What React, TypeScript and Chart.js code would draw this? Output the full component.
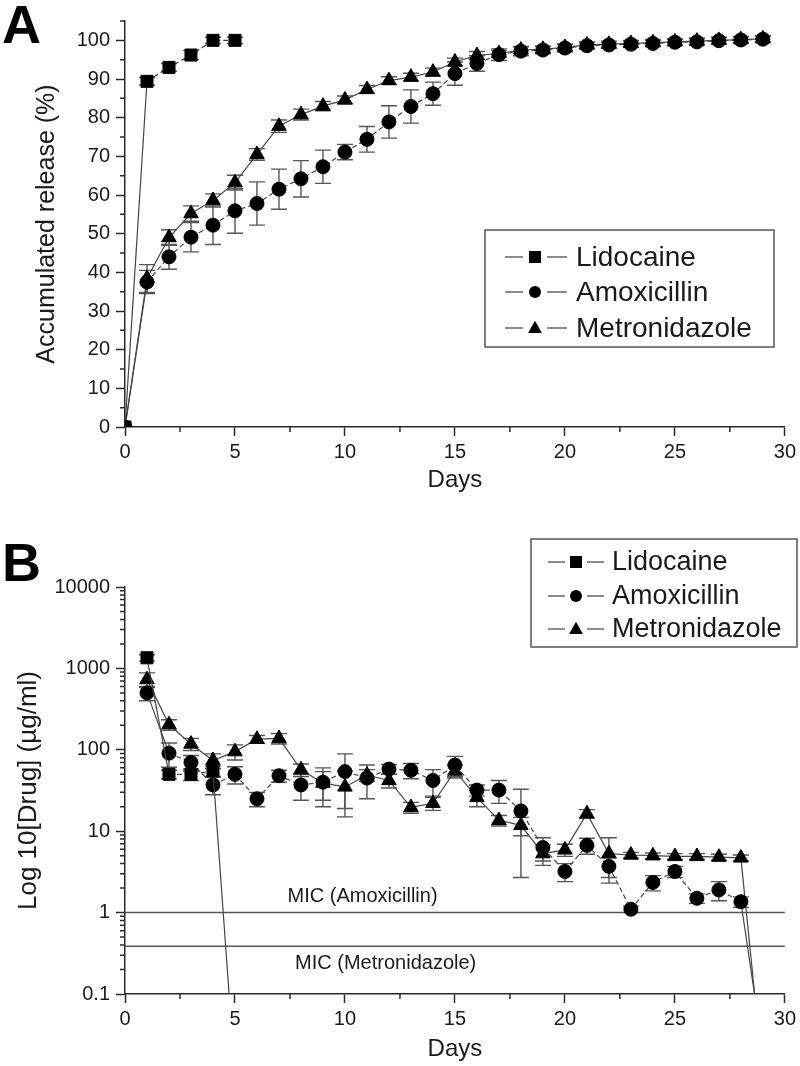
import React, { useEffect, useRef } from 'react';
import { Chart, registerables } from 'chart.js';

Chart.register(...registerables);

// ---------------- Panel A data (accumulated release, %) ----------------
const daysA = [0, 1, 2, 3, 4, 5, 6, 7, 8, 9, 10, 11, 12, 13, 14, 15, 16, 17, 18, 19, 20, 21, 22, 23, 24, 25, 26, 27, 28, 29];
const lidocaineA = [0, 89.4, 93.0, 96.2, 100.0, 100.0];
const lidocaineAErr = [0, 1.0, 1.0, 1.2, 0.8, 0.8];
const amoxicillinA = [0, 37.5, 44.0, 49.1, 52.2, 55.9, 57.8, 61.5, 64.2, 67.3, 71.1, 74.4, 78.9, 82.9, 86.2, 91.4, 94.0, 96.3, 97.2, 97.5, 98.0, 98.6, 98.8, 99.0, 99.2, 99.5, 99.6, 99.9, 100.1, 100.3];
const amoxicillinAErr = [0, 3.0, 3.2, 3.8, 5.0, 5.8, 5.6, 5.2, 4.7, 4.3, 2.0, 3.3, 4.2, 4.3, 3.0, 3.0, 2.0, 1.5, 1.2, 1.0, 1.0, 0.8, 0.8, 0.8, 0.8, 0.8, 0.8, 0.8, 0.8, 0.8];
const metronidazoleA = [0, 38.4, 49.0, 55.2, 58.6, 63.2, 70.5, 77.8, 80.8, 83.0, 84.6, 87.3, 89.6, 90.5, 91.8, 94.4, 96.1, 96.6, 97.5, 97.7, 98.2, 98.8, 99.0, 99.2, 99.4, 99.6, 99.8, 100.0, 100.2, 100.4];
const metronidazoleAErr = [0, 3.6, 2.0, 2.0, 1.7, 1.9, 1.5, 1.6, 1.4, 1.2, 1.0, 1.0, 1.0, 1.0, 1.0, 1.0, 1.0, 0.8, 0.8, 0.8, 0.8, 0.8, 0.8, 0.8, 0.8, 0.8, 0.8, 0.8, 0.8, 0.8];

// ---------------- Panel B data (concentration, µg/ml, log axis) ----------------
const daysB = [1, 2, 3, 4, 5, 6, 7, 8, 9, 10, 11, 12, 13, 14, 15, 16, 17, 18, 19, 20, 21, 22, 23, 24, 25, 26, 27, 28, 29];
const lidocaineB = [1350, 50, 50, 55, 0.01];
const lidocaineBErr = [120, 6, 8, 8, 0];
const amoxicillinB = [500, 91, 70, 37, 50, 25, 48, 37, 40, 54, 45, 58, 56, 42, 65, 32, 32, 17.7, 6.3, 3.2, 6.7, 3.7, 1.1, 2.35, 3.2, 1.5, 1.9, 1.36, 0.02];
const amoxicillinBErr = [100, 30, 15, 9, 12, 5, 8, 13, 20, 35, 20, 8, 12, 15, 18, 5, 10, 15, 2, 0.8, 1.5, 1.0, 0.1, 0.5, 0.5, 0.2, 0.5, 0.2, 0];
const metronidazoleB = [730, 204, 118, 74, 95, 135, 138, 57, 39, 35, 49, 42, 19.6, 22, 55, 26, 13.6, 11.8, 5.3, 5.9, 16.4, 5.3, 5.1, 5.0, 4.9, 4.9, 4.8, 4.7, 0.01];
const metronidazoleBErr = [150, 30, 20, 15, 20, 15, 20, 10, 15, 20, 8, 8, 3, 4, 10, 6, 2, 3, 1.5, 1, 2, 3, 0.4, 0.4, 0.4, 0.4, 0.4, 0.4, 0];
const micAmoxicillin = 1;
const micMetronidazole = 0.385;

// ---------------- ticks ----------------
const xTicks = [0, 5, 10, 15, 20, 25, 30];
const yTicksA = [0, 10, 20, 30, 40, 50, 60, 70, 80, 90, 100];
const yTicksB = [0.1, 1, 10, 100, 1000, 10000];

const xMinor = xTicks.slice(0, -1).map((v) => v + 2.5);
const yMinorA = yTicksA.map((v) => v + 5);
const yMinorB = yTicksB.slice(0, -1).flatMap((d) => [2, 3, 4, 5, 6, 7, 8, 9].map((k) => k * d));

const FONT = "'Liberation Sans', Arial, Helvetica, sans-serif";
const AXIS = '#2a2a2a';
const TEXT = '#1a1a1a';

const toPoints = (days: number[], vals: number[]) => vals.map((v, i) => ({ x: days[i], y: v }));

function series(label: string, data: any[], errors: number[], pointStyle: string, radius: number, dashed: boolean) {
  return {
    label,
    data,
    errors,
    legendEntry: true,
    pointStyle,
    pointRadius: radius,
    pointHoverRadius: radius,
    pointBackgroundColor: '#000',
    pointBorderColor: '#000',
    pointBorderWidth: 1,
    borderColor: '#454545',
    borderWidth: 1.2,
    tension: 0,
    fill: false,
    segment: {
      borderDash: (c: any) => (dashed && c.p0DataIndex > 0 && c.p1.parsed.y >= 0.1 ? [5, 3] : undefined),
    },
  };
}

function micLine(label: string, value: number) {
  return {
    label,
    data: [{ x: 0, y: value }, { x: 30, y: value }],
    borderColor: '#555',
    borderWidth: 1.5,
    pointRadius: 0,
    pointHoverRadius: 0,
    fill: false,
  };
}

// ---------------- plugins ----------------
const errorBarsPlugin = {
  id: 'errorBars',
  beforeDatasetsDraw(chart: any) {
    const { ctx, chartArea } = chart;
    const xs = chart.scales.x;
    const ys = chart.scales.y;
    ctx.save();
    ctx.beginPath();
    ctx.rect(chartArea.left, chartArea.top - 2, chartArea.right - chartArea.left, chartArea.bottom - chartArea.top + 2);
    ctx.clip();
    ctx.strokeStyle = '#555';
    ctx.lineWidth = 1.4;
    chart.data.datasets.forEach((ds: any) => {
      if (!ds.errors) return;
      ds.data.forEach((p: any, j: number) => {
        const e = ds.errors[j];
        if (!e || p.y < ys.min) return;
        const x = xs.getPixelForValue(p.x);
        const hi = ys.getPixelForValue(p.y + e);
        const loVal = p.y - e;
        const lo = loVal > ys.min ? ys.getPixelForValue(loVal) : chartArea.bottom;
        ctx.beginPath();
        ctx.moveTo(x, hi);
        ctx.lineTo(x, lo);
        ctx.moveTo(x - 8, hi);
        ctx.lineTo(x + 8, hi);
        if (loVal > ys.min) {
          ctx.moveTo(x - 8, lo);
          ctx.lineTo(x + 8, lo);
        }
        ctx.stroke();
      });
    });
    ctx.restore();
  },
};

const minorTicksPlugin = {
  id: 'minorTicks',
  afterDraw(chart: any, _a: any, opts: any) {
    const { ctx, chartArea } = chart;
    const xs = chart.scales.x;
    const ys = chart.scales.y;
    ctx.save();
    ctx.strokeStyle = AXIS;
    ctx.lineWidth = 1.5;
    ctx.beginPath();
    (opts.x || []).forEach((v: number) => {
      const px = xs.getPixelForValue(v);
      ctx.moveTo(px, chartArea.bottom);
      ctx.lineTo(px, chartArea.bottom + opts.length);
    });
    (opts.y || []).forEach((v: number) => {
      const py = ys.getPixelForValue(v);
      ctx.moveTo(chartArea.left, py);
      ctx.lineTo(chartArea.left - opts.length, py);
    });
    ctx.stroke();
    ctx.restore();
  },
};

function drawMarker(ctx: CanvasRenderingContext2D, style: string, x: number, y: number, s: number) {
  ctx.beginPath();
  if (style === 'rect') {
    ctx.rect(x - s / 2, y - s / 2, s, s);
  } else if (style === 'circle') {
    ctx.arc(x, y, s / 2, 0, Math.PI * 2);
  } else {
    ctx.moveTo(x, y - s * 0.6);
    ctx.lineTo(x + s * 0.58, y + s * 0.42);
    ctx.lineTo(x - s * 0.58, y + s * 0.42);
    ctx.closePath();
  }
  ctx.fill();
}

const boxLegendPlugin = {
  id: 'boxLegend',
  afterDraw(chart: any, _a: any, opts: any) {
    const { ctx } = chart;
    const [x1, y1, x2, y2] = opts.box;
    ctx.save();
    ctx.strokeStyle = '#555';
    ctx.lineWidth = 1.5;
    ctx.strokeRect(x1, y1, x2 - x1, y2 - y1);
    const items = chart.data.datasets.filter((d: any) => d.legendEntry);
    items.forEach((ds: any, i: number) => {
      const y = opts.rows[i];
      ctx.strokeStyle = '#666';
      ctx.lineWidth = 1.3;
      ctx.beginPath();
      ctx.moveTo(opts.line1[0], y);
      ctx.lineTo(opts.line1[1], y);
      ctx.moveTo(opts.line2[0], y);
      ctx.lineTo(opts.line2[1], y);
      ctx.stroke();
      ctx.fillStyle = '#000';
      drawMarker(ctx, ds.pointStyle, opts.markerX, y, opts.markerSize);
      ctx.fillStyle = TEXT;
      ctx.font = `${opts.fontSize}px ${FONT}`;
      ctx.textAlign = 'left';
      ctx.textBaseline = 'middle';
      ctx.fillText(ds.label, opts.textX, y + 1);
    });
    ctx.restore();
  },
};

const textsPlugin = {
  id: 'texts',
  afterDraw(chart: any, _a: any, opts: any) {
    const { ctx } = chart;
    ctx.save();
    (opts.items || []).forEach((t: any) => {
      let x = t.x;
      let y = t.y;
      if (t.data) {
        x = chart.scales.x.getPixelForValue(t.x);
        y = chart.scales.y.getPixelForValue(t.y);
      }
      ctx.font = t.font;
      ctx.fillStyle = t.color || TEXT;
      ctx.textAlign = t.align || 'left';
      ctx.textBaseline = t.baseline || 'alphabetic';
      ctx.fillText(t.text, x, y);
    });
    ctx.restore();
  },
};

const plugins = [errorBarsPlugin, minorTicksPlugin, boxLegendPlugin, textsPlugin];

function xScale(height: number, titlePad: number) {
  return {
    type: 'linear',
    min: 0,
    max: 30,
    afterBuildTicks: (s: any) => {
      s.ticks = xTicks.map((v) => ({ value: v }));
    },
    afterFit: (s: any) => {
      s.height = height;
    },
    grid: { display: true, drawOnChartArea: false, drawTicks: true, tickLength: 9, tickColor: AXIS, tickWidth: 1.5 },
    border: { display: true, color: AXIS, width: 1.5 },
    ticks: { color: TEXT, font: { size: 20, family: FONT }, padding: 4, maxRotation: 0, autoSkip: false, callback: (v: any) => String(v) },
    title: { display: true, text: 'Days', color: TEXT, font: { size: 24, family: FONT }, padding: { top: 0, bottom: titlePad } },
  };
}

function configA(): any {
  return {
    type: 'line',
    data: {
      datasets: [
        series('Lidocaine', toPoints(daysA, lidocaineA), lidocaineAErr, 'rect', 8.5, true),
        series('Amoxicillin', toPoints(daysA, amoxicillinA), amoxicillinAErr, 'circle', 7, true),
        series('Metronidazole', toPoints(daysA, metronidazoleA), metronidazoleAErr, 'triangle', 8.4, false),
      ],
    },
    options: {
      responsive: false,
      animation: false,
      devicePixelRatio: 1,
      layout: { padding: { top: 21, right: 14, left: 0, bottom: 0 } },
      scales: {
        x: xScale(73, 5),
        y: {
          type: 'linear',
          min: 0,
          max: 105,
          afterBuildTicks: (s: any) => {
            s.ticks = yTicksA.map((v) => ({ value: v }));
          },
          afterFit: (s: any) => {
            s.width = 125;
          },
          grid: { display: true, drawOnChartArea: false, drawTicks: true, tickLength: 9, tickColor: AXIS, tickWidth: 1.5 },
          border: { display: true, color: AXIS, width: 1.5 },
          ticks: { color: TEXT, font: { size: 20, family: FONT }, padding: 6, autoSkip: false, callback: (v: any) => String(v) },
          title: { display: true, text: 'Accumulated release (%)', color: TEXT, font: { size: 25, family: FONT }, padding: { top: 32, bottom: 0 } },
        },
      },
      plugins: {
        legend: { display: false },
        tooltip: { enabled: false },
        minorTicks: { x: xMinor, y: yMinorA, length: 5 },
        boxLegend: {
          box: [485, 230, 774, 347],
          rows: [257, 292, 328],
          line1: [505, 523],
          line2: [547, 567],
          markerX: 535,
          markerSize: 12,
          textX: 576,
          fontSize: 28,
        },
        texts: {
          items: [{ text: 'A', x: 2, y: 43, font: `bold 54px ${FONT}`, color: '#000' }],
        },
      },
    },
    plugins,
  };
}

function configB(): any {
  return {
    type: 'line',
    data: {
      datasets: [
        series('Lidocaine', toPoints(daysB, lidocaineB), lidocaineBErr, 'rect', 8.5, true),
        series('Amoxicillin', toPoints(daysB, amoxicillinB), amoxicillinBErr, 'circle', 7, true),
        series('Metronidazole', toPoints(daysB, metronidazoleB), metronidazoleBErr, 'triangle', 8.4, false),
        micLine('MIC (Amoxicillin)', micAmoxicillin),
        micLine('MIC (Metronidazole)', micMetronidazole),
      ],
    },
    options: {
      responsive: false,
      animation: false,
      devicePixelRatio: 1,
      layout: { padding: { top: 87, right: 14, left: 0, bottom: 0 } },
      scales: {
        x: xScale(72, 2),
        y: {
          type: 'logarithmic',
          min: 0.1,
          max: 10000,
          afterBuildTicks: (s: any) => {
            s.ticks = yTicksB.map((v) => ({ value: v }));
          },
          afterFit: (s: any) => {
            s.width = 125;
          },
          grid: { display: true, drawOnChartArea: false, drawTicks: true, tickLength: 9, tickColor: AXIS, tickWidth: 1.5 },
          border: { display: true, color: AXIS, width: 1.5 },
          ticks: { color: TEXT, font: { size: 20, family: FONT }, padding: 6, autoSkip: false, callback: (v: any) => (v < 1 ? String(v) : String(Math.round(v))) },
          title: { display: true, text: 'Log 10[Drug] (µg/ml)', color: TEXT, font: { size: 26, family: FONT }, padding: { top: 13, bottom: 0 } },
        },
      },
      plugins: {
        legend: { display: false },
        tooltip: { enabled: false },
        minorTicks: { x: xMinor, y: yMinorB, length: 5 },
        boxLegend: {
          box: [531, 39, 797, 147],
          rows: [62, 96, 129],
          line1: [548, 565],
          line2: [587, 604],
          markerX: 576,
          markerSize: 12,
          textX: 612,
          fontSize: 27,
        },
        texts: {
          items: [
            { text: 'B', x: 2, y: 81, font: `bold 54px ${FONT}`, color: '#000' },
            { text: 'MIC (Amoxicillin)', x: 10.8, y: 1.58, data: true, font: `20px ${FONT}`, align: 'center', baseline: 'middle' },
            { text: 'MIC (Metronidazole)', x: 11.85, y: 0.24, data: true, font: `20px ${FONT}`, align: 'center', baseline: 'middle' },
          ],
        },
      },
    },
    plugins,
  };
}

function ChartCanvas({ make, width, height }: { make: () => any; width: number; height: number }) {
  const ref = useRef<HTMLCanvasElement>(null);
  useEffect(() => {
    if (!ref.current) return;
    const chart = new Chart(ref.current, make());
    return () => chart.destroy();
  }, [make]);
  return <canvas ref={ref} width={width} height={height} style={{ display: 'block', width, height }} />;
}

export default function App() {
  return (
    <div style={{ position: 'absolute', left: 0, top: 0, width: 800, height: 1066, background: '#fff' }}>
      <ChartCanvas make={configA} width={800} height={500} />
      <ChartCanvas make={configB} width={800} height={566} />
    </div>
  );
}
